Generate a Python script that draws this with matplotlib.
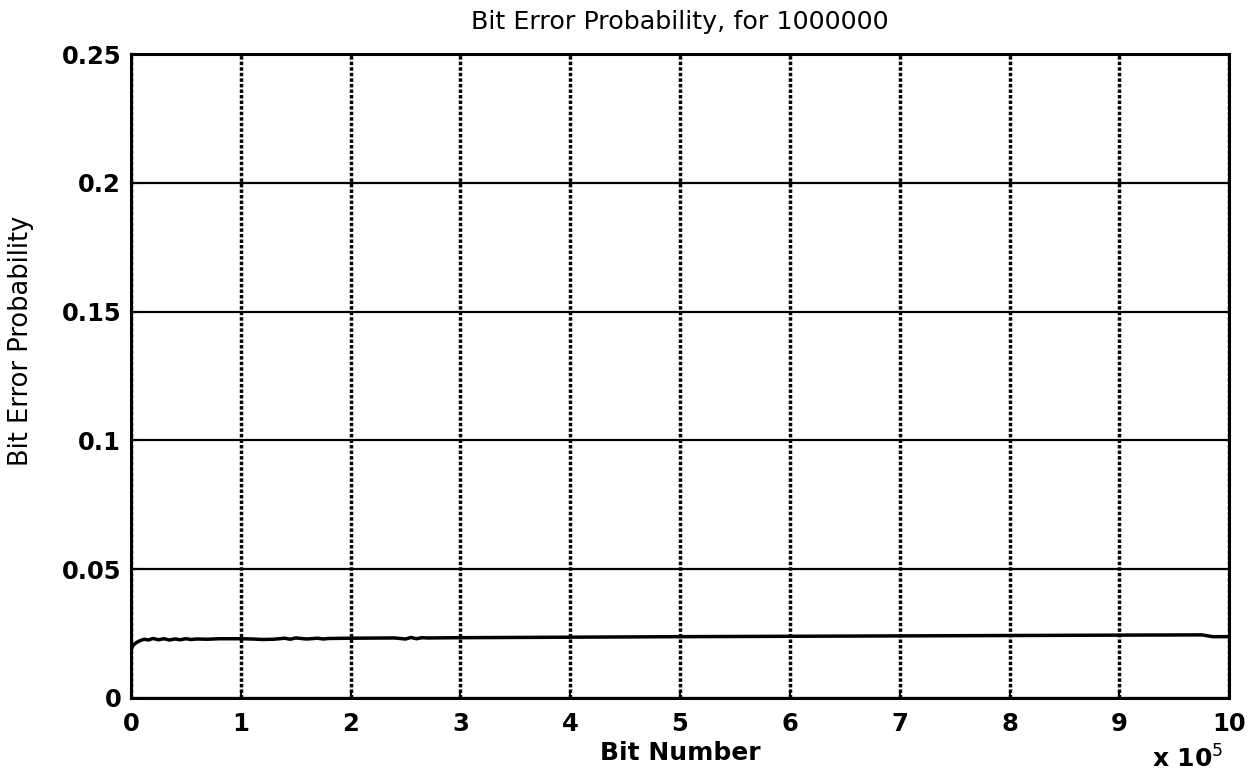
import matplotlib
matplotlib.use("Agg")
import matplotlib.pyplot as plt
from matplotlib.ticker import FuncFormatter, MultipleLocator

plt.rcParams['font.family'] = ['DejaVu Sans']

bit_number = [0, 2000, 5000, 8000, 12000, 16000, 20000, 25000, 30000, 35000,
              40000, 45000, 50000, 55000, 60000, 70000, 80000, 100000, 110000,
              120000, 130000, 140000, 145000, 150000, 160000, 170000, 175000,
              180000, 200000, 240000, 250000, 255000, 260000, 265000, 270000,
              300000, 500000, 700000, 900000, 975000, 985000, 1000000]
error_prob = [0.0185, 0.0205, 0.0215, 0.0222, 0.0228, 0.0225, 0.0231, 0.0226,
              0.0230, 0.0225, 0.0229, 0.0226, 0.0230, 0.0227, 0.0229, 0.0228,
              0.0230, 0.0230, 0.0229, 0.0227, 0.0228, 0.0232, 0.0228, 0.0233,
              0.0229, 0.0232, 0.0229, 0.0231, 0.0232, 0.0233, 0.0229, 0.0235,
              0.0230, 0.0234, 0.0233, 0.0234, 0.0238, 0.0241, 0.0244, 0.0245,
              0.0238, 0.0238]
y_ticks = [0, 0.05, 0.1, 0.15, 0.2, 0.25]
y_tick_labels = ['0', '0.05', '0.1', '0.15', '0.2', '0.25']

fig = plt.figure(figsize=(12.53, 7.77), dpi=100)
ax = fig.add_axes([0.1045, 0.1017, 0.8765, 0.8288])
ax.plot(bit_number, error_prob, color='black', lw=2.5)

ax.set_xlim(0, 1000000)
ax.set_ylim(0, 0.25)
ax.xaxis.set_major_locator(MultipleLocator(100000))
ax.xaxis.set_major_formatter(FuncFormatter(lambda v, p: f"{int(round(v / 1e5))}"))
ax.set_yticks(y_ticks)
ax.set_yticklabels(y_tick_labels)

ax.xaxis.grid(True, color='black', linestyle=(0, (1, 0.6)), lw=2.5)
ax.yaxis.grid(True, color='black', linestyle='-', lw=1.6)
ax.set_axisbelow(True)

for s in ax.spines.values():
    s.set_linewidth(2.2)
ax.tick_params(direction='in', length=5, width=1.5, labelsize=17.5)
ax.tick_params(axis='x', pad=10)
ax.tick_params(axis='y', pad=7)
for lab in ax.get_xticklabels() + ax.get_yticklabels():
    lab.set_fontweight('bold')

ax.set_title('Bit Error Probability, for 1000000', fontsize=18.3, pad=18)
ax.set_xlabel('Bit Number', fontsize=18, fontweight='bold', labelpad=4)
ax.set_ylabel('Bit Error Probability', fontsize=18.5)
ax.yaxis.set_label_coords(-0.088, 0.554)
fig.text(0.919, 0.012, r'x 10$^{5}$', fontsize=18, fontweight='bold')

fig.savefig('out.png', dpi=100)
